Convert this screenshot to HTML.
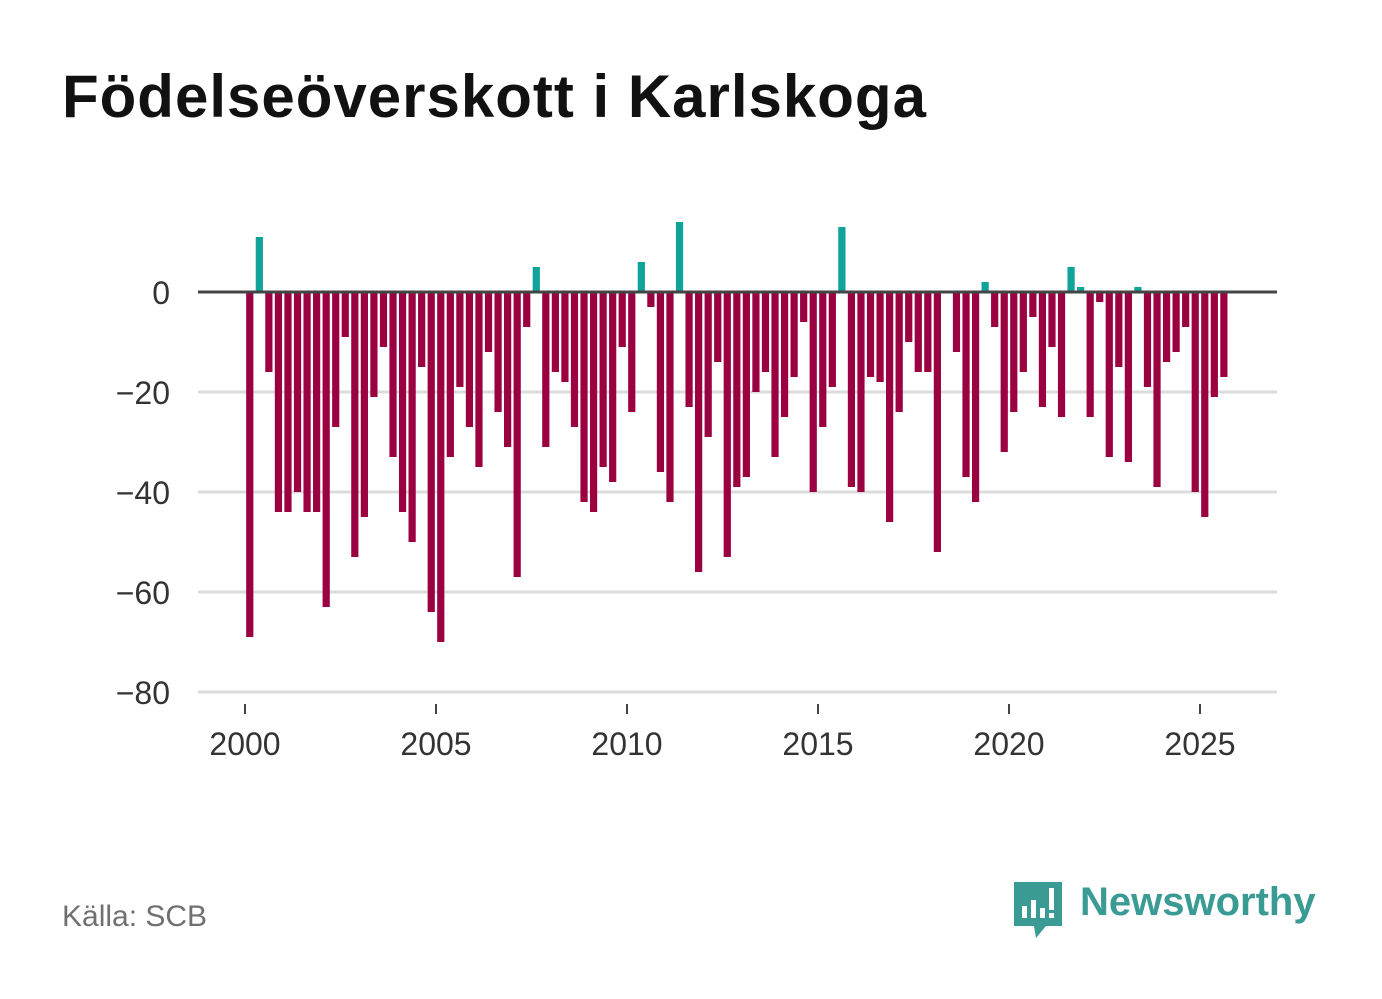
<!DOCTYPE html>
<html><head><meta charset="utf-8"><style>
html,body{margin:0;padding:0;background:#fff;}
body{width:1382px;height:999px;position:relative;overflow:hidden;font-family:"Liberation Sans",sans-serif;}
#title{position:absolute;left:62px;top:62px;font-size:60px;font-weight:bold;color:#111;letter-spacing:1px;}
#source{position:absolute;left:62px;top:900px;font-size:30px;color:#707070;}
#logo{position:absolute;left:1012px;top:880px;}
#logotext{position:absolute;left:1080px;top:880px;font-size:40px;font-weight:bold;color:#3a9b94;}
svg text{font-family:"Liberation Sans",sans-serif;}
</style></head><body>
<div id="title">Födelseöverskott i Karlskoga</div>
<svg id="chart" width="1382" height="999" style="position:absolute;left:0;top:0"></svg>
<div id="source">Källa: SCB</div>
<svg id="logo" width="52" height="62" viewBox="0 0 52 62">
<path d="M2 2 H50 V46 H34 L24 58 L22 46 H2 Z" fill="#3a9b94"/>
<rect x="10" y="26" width="5" height="12" fill="#fff"/><rect x="19" y="20" width="5" height="18" fill="#fff"/><rect x="28" y="28" width="5" height="10" fill="#fff"/><rect x="37" y="8" width="5" height="22" fill="#fff"/><rect x="37" y="33" width="5" height="5" fill="#fff"/>
</svg>
<div id="logotext">Newsworthy</div>
<script>
const values=[-69,11,-16,-44,-44,-40,-44,-44,-63,-27,-9,-53,-45,-21,-11,-33,-44,-50,-15,-64,-70,-33,-19,-27,-35,-12,-24,-31,-57,-7,5,-31,-16,-18,-27,-42,-44,-35,-38,-11,-24,6,-3,-36,-42,14,-23,-56,-29,-14,-53,-39,-37,-20,-16,-33,-25,-17,-6,-40,-27,-19,13,-39,-40,-17,-18,-46,-24,-10,-16,-16,-52,0,-12,-37,-42,2,-7,-32,-24,-16,-5,-23,-11,-25,5,1,-25,-2,-33,-15,-34,1,-19,-39,-14,-12,-7,-40,-45,-21,-17];
const startYear=2000;
const yTicks=[0,-20,-40,-60,-80];
const xTicks=[2000,2005,2010,2015,2020,2025];
const NS="http://www.w3.org/2000/svg";
const svg=document.getElementById('chart');
const x=t=>245+(t-2000)*38.2;
const y=v=>292-v*5;
function el(tag,attrs){const e=document.createElementNS(NS,tag);for(const k in attrs)e.setAttribute(k,attrs[k]);svg.appendChild(e);return e;}
yTicks.forEach(v=>{
  if(v!==0){const g=el('line',{x1:198,x2:1277,y1:y(v),y2:y(v),stroke:'#dcdcdc','stroke-width':3});
  
  }
  const t=el('text',{x:170,y:y(v)+12,'text-anchor':'end','font-size':32,fill:'#333'});
  t.textContent=(v<0?'\u2212'+(-v):v);
  
  
});
values.forEach((v,i)=>{
  const cx=x(startYear+(i+0.5)/4);
  const top=Math.min(y(0),y(v)),h=Math.abs(y(v)-y(0));
  if(h===0)return;
  const r=el('rect',{x:cx-3.6,y:top,width:7.2,height:h,fill:v>=0?'#0fa39a':'#9b0040'});
  
  
});
const z=el('line',{x1:198,x2:1277,y1:y(0),y2:y(0),stroke:'#444','stroke-width':3});


xTicks.forEach(yr=>{
  const tk=el('line',{x1:x(yr),x2:x(yr),y1:704,y2:714,stroke:'#444','stroke-width':2});
  
  
  const t=el('text',{x:x(yr),y:755,'text-anchor':'middle','font-size':32,fill:'#333'});
  t.textContent=yr;
  
  
});
</script>
</body></html>
